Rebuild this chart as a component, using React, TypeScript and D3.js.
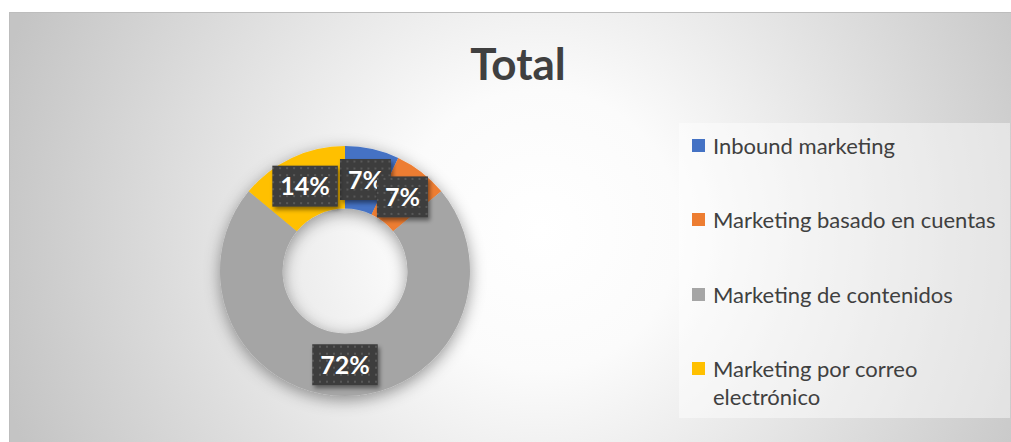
import React, { useEffect, useRef } from "react";
import * as d3 from "d3";

const categories = [
  "Inbound marketing",
  "Marketing basado en cuentas",
  "Marketing de contenidos",
  "Marketing por correo electrónico",
];
const values = [7, 7, 72, 14];
const labels = ["7%", "7%", "72%", "14%"];
const colors = ["#4472C4", "#ED7D31", "#A5A5A5", "#FFC000"];
const legendLines = [
  ["Inbound marketing"],
  ["Marketing basado en cuentas"],
  ["Marketing de contenidos"],
  ["Marketing por correo", "electrónico"],
];
const title = "Total";

const W = 1011;
const H = 442;

export default function App() {
  const ref = useRef<SVGSVGElement>(null);

  useEffect(() => {
    const svg = d3.select(ref.current);
    svg.selectAll("*").remove();
    const defs = svg.append("defs");

    const rg = defs
      .append("radialGradient")
      .attr("id", "bg")
      .attr("gradientUnits", "userSpaceOnUse")
      .attr("cx", 540)
      .attr("cy", 230)
      .attr("r", 560);
    rg.append("stop").attr("offset", 0).attr("stop-color", "#ffffff");
    rg.append("stop").attr("offset", 0.25).attr("stop-color", "#fbfbfb");
    rg.append("stop").attr("offset", 1).attr("stop-color", "#c4c4c4");

    const pat = defs
      .append("pattern")
      .attr("id", "dots")
      .attr("patternUnits", "userSpaceOnUse")
      .attr("width", 7)
      .attr("height", 7);
    pat.append("rect").attr("width", 7).attr("height", 7).attr("fill", "#3d3d3d");
    pat.append("rect").attr("x", 2).attr("y", 2).attr("width", 2).attr("height", 2).attr("fill", "#585858");

    const ringShadow = defs.append("filter").attr("id", "ringShadow").attr("x", "-20%").attr("y", "-20%").attr("width", "140%").attr("height", "140%");
    ringShadow
      .append("feDropShadow")
      .attr("dx", 0)
      .attr("dy", 4)
      .attr("stdDeviation", 8)
      .attr("flood-color", "#000")
      .attr("flood-opacity", 0.4);

    const boxShadow = defs.append("filter").attr("id", "boxShadow").attr("x", "-30%").attr("y", "-30%").attr("width", "160%").attr("height", "160%");
    boxShadow
      .append("feDropShadow")
      .attr("dx", 2)
      .attr("dy", 3)
      .attr("stdDeviation", 2)
      .attr("flood-color", "#000")
      .attr("flood-opacity", 0.45);

    // chart area
    svg
      .append("rect")
      .attr("x", 9.5)
      .attr("y", 12.5)
      .attr("width", W)
      .attr("height", H)
      .attr("fill", "url(#bg)")
      .attr("stroke", "#bdbdbd")
      .attr("stroke-width", 1);

    // title
    svg
      .append("text")
      .attr("x", 518)
      .attr("y", 80)
      .attr("text-anchor", "middle")
      .attr("font-family", "Lato, 'Open Sans', sans-serif")
      .attr("font-weight", 700)
      .attr("font-size", 44)
      .attr("fill", "#404040")
      .text(title);

    // donut
    const cx = 345;
    const cy = 271;
    const outerR = 125;
    const innerR = 62.5;
    const pie = d3.pie<number>().sort(null).value((d) => d);
    const arcs = pie(values);
    const arc = d3.arc<d3.PieArcDatum<number>>().innerRadius(innerR).outerRadius(outerR);

    const g = svg.append("g").attr("transform", `translate(${cx},${cy})`);
    const ring = g.append("g").attr("filter", "url(#ringShadow)");
    ring
      .selectAll("path")
      .data(arcs)
      .join("path")
      .attr("d", arc)
      .attr("fill", (_, i) => colors[i]);

    // labels
    arcs.forEach((a, i) => {
      const [lx, ly] = arc.centroid(a);
      const lg = g.append("g").attr("transform", `translate(${lx},${ly})`);
      const rect = lg.append("rect").attr("fill", "url(#dots)").attr("filter", "url(#boxShadow)");
      const t = lg
        .append("text")
        .attr("text-anchor", "middle")
        .attr("dy", "0.36em")
        .attr("font-family", "Lato, 'Open Sans', sans-serif")
        .attr("font-weight", 700)
        .attr("font-size", 25)
        .attr("fill", "#ffffff")
        .text(labels[i]);
      const tw = (t.node() as SVGTextElement).getComputedTextLength();
      const bw = tw + 16;
      const bh = 41;
      rect.attr("x", -bw / 2).attr("y", -bh / 2).attr("width", bw).attr("height", bh);
    });

    // legend panel
    svg
      .append("rect")
      .attr("x", 679)
      .attr("y", 123)
      .attr("width", 331)
      .attr("height", 295)
      .attr("fill", "#ffffff")
      .attr("fill-opacity", 0.45);

    const rowY = [146, 220, 295, 369];
    categories.forEach((c, i) => {
      const lgG = svg.append("g");
      lgG
        .append("rect")
        .attr("x", 692)
        .attr("y", rowY[i] - 7)
        .attr("width", 13)
        .attr("height", 13)
        .attr("fill", colors[i]);
      const txt = lgG
        .append("text")
        .attr("x", 713)
        .attr("y", rowY[i])
        .attr("font-family", "Lato, 'Open Sans', sans-serif")
        .attr("font-size", 22)
        .attr("fill", "#404040");
      legendLines[i].forEach((line, j) => {
        txt
          .append("tspan")
          .attr("x", 713)
          .attr("dy", j === 0 ? "0.35em" : 28)
          .text(line);
      });
    });
  }, []);

  return (
    <svg
      ref={ref}
      width={W}
      height={H}
      style={{ position: "absolute", left: 0, top: 0, display: "block", background: "#ffffff" }}
    />
  );
}
